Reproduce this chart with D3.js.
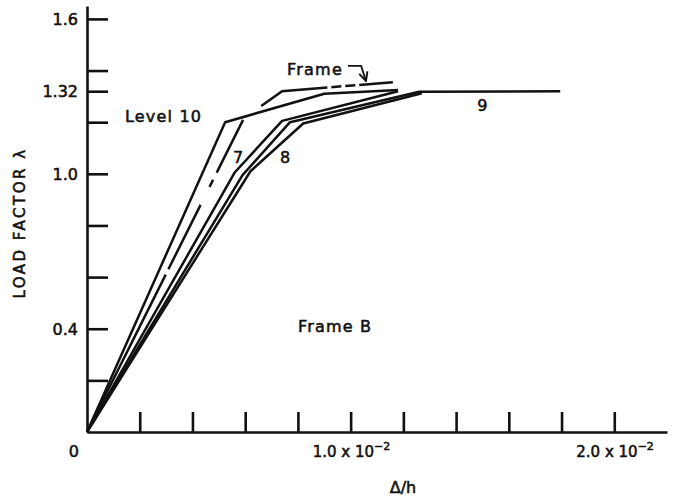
<!DOCTYPE html>
<html>
<head>
<meta charset="utf-8">
<script src="https://cdn.jsdelivr.net/npm/d3@7"></script>
<style>
  body { margin: 0; background: #fff; }
  text { font-family: "DejaVu Sans", sans-serif; fill: #111; stroke: #111; stroke-width: 0.55px; }
</style>
</head>
<body>
<div id="chart"></div>
<script>
// curves: [drift ratio in units of 1e-2, load factor]
const level10 = [[0, 0], [0.524, 1.20], [0.90, 1.31], [1.18, 1.325]];
const frameCurve = [[0, 0], [0.595, 1.215], [0.74, 1.32], [1.16, 1.355]];
const level7 = [[0, 0], [0.56, 1.005], [0.74, 1.205], [1.18, 1.32]];
const level9 = [[0, 0], [0.59, 0.995], [0.77, 1.20], [1.26, 1.318], [1.795, 1.32]];
const level8 = [[0, 0], [0.62, 1.01], [0.82, 1.195], [1.27, 1.312]];

const yTicks = [0.2, 0.4, 0.6, 0.8, 1.0, 1.2, 1.32, 1.4, 1.6];
const yTickLabels = { "0.4": "0.4", "1": "1.0", "1.32": "1.32", "1.6": "1.6" };
const xTicks = [0.2, 0.4, 0.6, 0.8, 1.0, 1.2, 1.4, 1.6, 1.8, 2.0];
const xTickLabels = [[1.0, "1.0 x 10"], [2.0, "2.0 x 10"]];

// text annotations placed in data coords
const notes = [
  { text: "Level 10", x: 0.144, y: 1.202 },
  { text: "7", x: 0.554, y: 1.043 },
  { text: "8", x: 0.732, y: 1.043 },
  { text: "9", x: 1.48, y: 1.244 },
  { text: "Frame", x: 0.759, y: 1.384 },
  { text: "Frame B", x: 0.80, y: 0.388 }
];
const frameArrow = [[0.99, 1.418], [1.04, 1.418], [1.058, 1.36]];

var width = 675, height = 499;

var svg = d3.select("#chart")
    .append("svg")
    .attr("width", width)
    .attr("height", height);

var x = d3.scaleLinear().domain([0, 2.2]).range([87, 667]);
var y = d3.scaleLinear().domain([0, 1.65]).range([432, 6]);

// y axis, ticks pointing inward
var yAxis = svg.append("g")
    .attr("transform", "translate(" + x(0) + ",0)")
    .call(d3.axisLeft(y)
        .tickValues(yTicks)
        .tickSizeInner(-21)
        .tickSizeOuter(0)
        .tickPadding(9)
        .tickFormat(d => yTickLabels[String(d)] || ""));

// x axis
var xAxis = svg.append("g")
    .attr("transform", "translate(0," + y(0) + ")")
    .call(d3.axisBottom(x)
        .tickValues(xTicks)
        .tickSizeInner(-20)
        .tickSizeOuter(0)
        .tickFormat(""));

svg.selectAll(".domain, .tick line")
    .attr("stroke", "#111")
    .attr("stroke-width", 2.6);
yAxis.selectAll("text").attr("font-size", 16).attr("dy", "0.36em");

// x tick labels with superscript
xTickLabels.forEach(function (d) {
    var t = svg.append("text")
        .attr("x", x(d[0]) - 38)
        .attr("y", y(0) + 25)
        .attr("font-size", 15)
        .text(d[1]);
    t.append("tspan")
        .attr("dy", -7)
        .attr("font-size", 11)
        .text("\u2212" + "2");
});

svg.append("text")
    .attr("x", x(0) - 8)
    .attr("y", y(0) + 25)
    .attr("text-anchor", "end")
    .attr("font-size", 16)
    .text("0");

// axis titles
svg.append("text")
    .attr("x", 403)
    .attr("y", 493)
    .attr("text-anchor", "middle")
    .attr("font-size", 16)
    .text("\u0394/h");

svg.append("text")
    .attr("transform", "translate(25,223) rotate(-90)")
    .attr("text-anchor", "middle")
    .attr("font-size", 15)
    .attr("letter-spacing", 2.5)
    .text("LOAD FACTOR \u03bb");

// curves
var line = d3.line()
    .x(function (d) { return x(d[0]) })
    .y(function (d) { return y(d[1]) });

[level9, level8, level7, level10].forEach(function (c) {
    svg.append("path")
        .datum(c)
        .attr("fill", "none")
        .attr("stroke", "#111")
        .attr("stroke-width", 2.5)
        .attr("stroke-linejoin", "round")
        .attr("d", line);
});

svg.append("path")
    .datum(frameCurve)
    .attr("fill", "none")
    .attr("stroke", "#111")
    .attr("stroke-width", 2.5)
    .attr("stroke-dasharray", "176,6,72,20,8,8,59,23,71,4,10,4,10,4,80")
    .attr("d", line);

// labels
svg.selectAll(".note")
    .data(notes)
    .enter()
    .append("text")
    .attr("class", "note")
    .attr("x", d => x(d.x))
    .attr("y", d => y(d.y))
    .attr("font-size", 16)
    .attr("letter-spacing", 1.2)
    .text(d => d.text);

// arrow from "Frame" label down to its curve
svg.append("defs").append("marker")
    .attr("id", "head")
    .attr("viewBox", "0 0 10 10")
    .attr("refX", 9).attr("refY", 5)
    .attr("markerWidth", 6).attr("markerHeight", 6)
    .attr("orient", "auto")
    .append("path")
    .attr("d", "M1,1 L9,5 L1,9")
    .attr("fill", "none")
    .attr("stroke", "#111")
    .attr("stroke-width", 1.8);

svg.append("path")
    .datum(frameArrow)
    .attr("fill", "none")
    .attr("stroke", "#111")
    .attr("stroke-width", 1.8)
    .attr("stroke-linejoin", "round")
    .attr("marker-end", "url(#head)")
    .attr("d", line);
</script>
</body>
</html>
